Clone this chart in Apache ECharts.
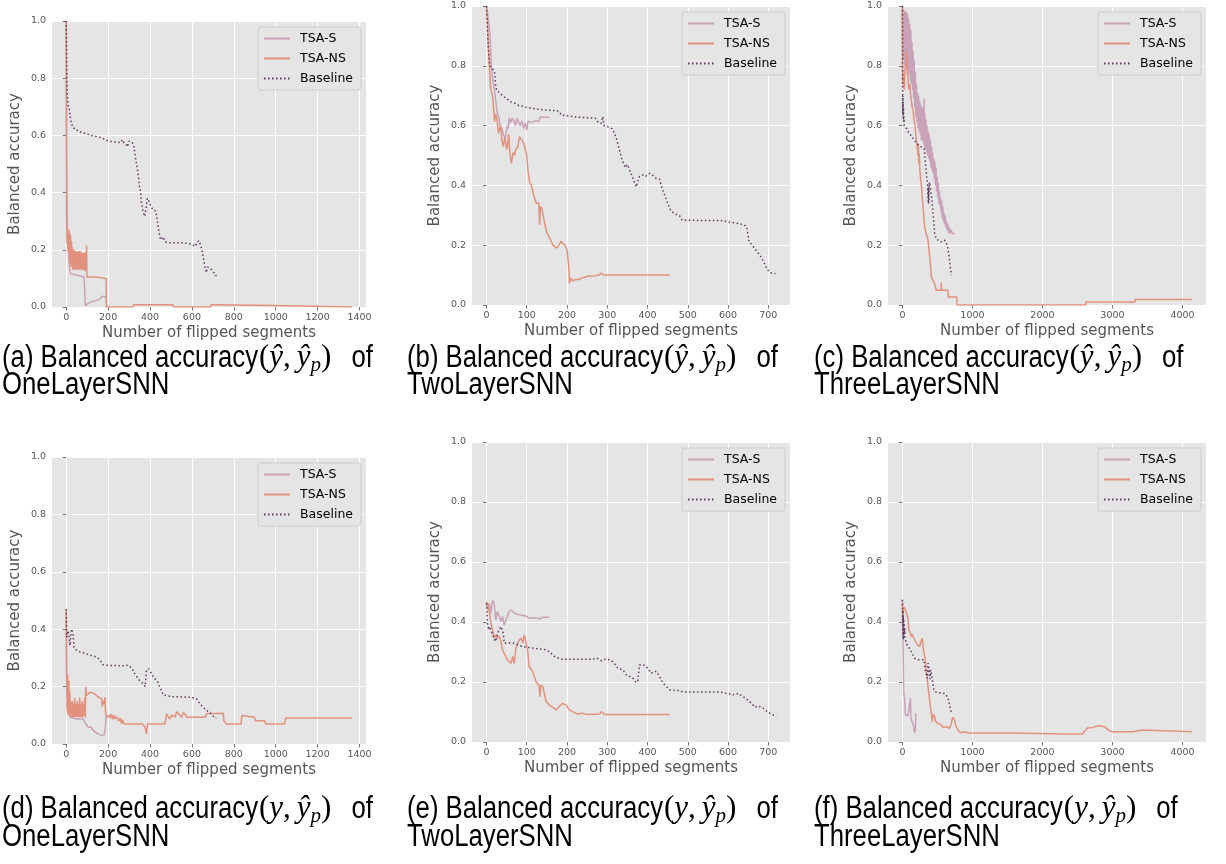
<!DOCTYPE html>
<html>
<head>
<meta charset="utf-8">
<script src="https://cdn.jsdelivr.net/npm/echarts@6/dist/echarts.min.js"></script>
<style>
html,body{margin:0;padding:0;background:#fff}
#main{width:1226px;height:864px}
</style>
</head>
<body>
<div id="main"></div>
<script>
// tick labels
var xTicks1400 = [0,200,400,600,800,1000,1200,1400]
var xTicks700 = [0,100,200,300,400,500,600,700]
var xTicks4000 = [0,1000,2000,3000,4000]
var yTicks = [0,0.2,0.4,0.6,0.8,1.0]
var seriesNames = ['TSA-S','TSA-NS','Baseline']

// (a) OneLayerSNN, acc(y^, y^p)
var a_tsaS = [[0,1.0],[2,0.5],[5,0.25],[10,0.2],[15,0.14],[20,0.117],[40,0.113],[60,0.11],[85,0.105],[88,0.06],[91,0.005],[100,0.005],[102,0.012],[110,0.015],[125,0.02],[145,0.022],[150,0.028],[165,0.03],[168,0.037],[185,0.037],[188,0.033],[190,0.033]]
var a_tsaNS = [[0,1.0],[1,0.6],[2,0.31],[3,0.28],[4,0.22],[5,0.28],[7,0.2],[9,0.27],[11,0.19],[13,0.27],[15,0.17],[17,0.26],[19,0.15],[21,0.25],[23,0.14],[25,0.23],[27,0.14],[29,0.21],[31,0.13],[33,0.2],[35,0.13],[38,0.2],[41,0.13],[44,0.195],[47,0.13],[50,0.195],[53,0.13],[56,0.195],[59,0.13],[62,0.195],[65,0.13],[68,0.195],[71,0.13],[74,0.19],[77,0.13],[80,0.19],[83,0.13],[86,0.19],[89,0.125],[92,0.19],[95,0.13],[97,0.215],[99,0.105],[140,0.105],[141,0.1],[190,0.1],[191,0],[320,0],[321,0.008],[510,0.008],[511,0],[690,0],[692,0.008],[712,0.008],[714,0.005],[985,0.005],[987,0],[1363,0]]
var a_base = [[0,1.0],[2,0.85],[4,0.76],[6,0.73],[10,0.70],[15,0.69],[20,0.66],[25,0.64],[30,0.635],[35,0.625],[45,0.625],[55,0.615],[75,0.61],[100,0.605],[120,0.6],[150,0.595],[175,0.59],[200,0.58],[230,0.577],[260,0.575],[268,0.585],[275,0.575],[285,0.57],[292,0.56],[300,0.58],[315,0.575],[322,0.565],[330,0.525],[338,0.49],[345,0.455],[350,0.42],[355,0.4],[360,0.36],[368,0.33],[375,0.317],[382,0.35],[387,0.38],[395,0.37],[405,0.35],[415,0.34],[428,0.335],[435,0.3],[442,0.265],[450,0.235],[458,0.23],[463,0.245],[470,0.23],[480,0.225],[550,0.225],[600,0.22],[615,0.212],[625,0.225],[632,0.232],[640,0.22],[648,0.2],[655,0.17],[662,0.14],[668,0.12],[675,0.14],[685,0.135],[695,0.13],[705,0.12],[712,0.11],[718,0.11]]

// (b) TwoLayerSNN, acc(y^, y^p)
var b_tsaS = [[0,1.0],[3,0.97],[5,0.95],[7,0.93],[9,0.9],[12,0.8],[15,0.76],[18,0.73],[20,0.72],[23,0.68],[26,0.65],[30,0.63],[34,0.6],[38,0.59],[42,0.57],[46,0.555],[50,0.56],[52,0.6],[54,0.59],[56,0.625],[60,0.61],[64,0.625],[68,0.615],[72,0.6],[76,0.625],[80,0.61],[84,0.6],[88,0.615],[92,0.59],[96,0.61],[98,0.61],[100,0.585],[103,0.615],[106,0.62],[112,0.61],[119,0.615],[131,0.615],[133,0.628],[156,0.628]]
var b_tsaNS = [[0,1.0],[3,0.93],[5,0.86],[8,0.78],[10,0.73],[13,0.71],[15,0.7],[18,0.65],[20,0.613],[23,0.64],[26,0.62],[30,0.575],[33,0.59],[35,0.6],[38,0.552],[42,0.53],[45,0.56],[47,0.55],[50,0.52],[53,0.54],[55,0.57],[58,0.508],[62,0.474],[66,0.51],[70,0.5],[72,0.519],[78,0.53],[82,0.563],[86,0.555],[90,0.55],[93,0.54],[96,0.541],[100,0.5],[103,0.45],[106,0.42],[108,0.408],[112,0.4],[116,0.374],[120,0.355],[124,0.34],[127,0.335],[130,0.34],[132,0.268],[134,0.33],[138,0.32],[142,0.318],[145,0.27],[150,0.24],[155,0.23],[160,0.215],[165,0.2],[170,0.195],[175,0.19],[180,0.2],[185,0.213],[190,0.205],[195,0.2],[200,0.185],[203,0.19],[205,0.12],[206,0.073],[210,0.09],[215,0.08],[220,0.085],[230,0.085],[235,0.09],[245,0.093],[250,0.096],[270,0.098],[280,0.1],[285,0.107],[292,0.1],[455,0.1]]
var b_base = [[0,1.0],[3,0.9],[5,0.85],[8,0.80],[12,0.795],[15,0.79],[20,0.78],[22,0.74],[25,0.72],[32,0.71],[40,0.70],[50,0.69],[60,0.68],[70,0.675],[80,0.667],[90,0.665],[100,0.661],[115,0.657],[125,0.655],[150,0.652],[175,0.65],[182,0.645],[186,0.635],[200,0.633],[230,0.628],[270,0.625],[278,0.61],[285,0.608],[289,0.63],[292,0.6],[300,0.597],[312,0.59],[318,0.575],[322,0.56],[330,0.52],[336,0.49],[340,0.475],[345,0.46],[350,0.47],[356,0.45],[362,0.43],[368,0.41],[372,0.395],[375,0.39],[380,0.43],[388,0.435],[395,0.43],[405,0.44],[412,0.435],[420,0.425],[430,0.42],[436,0.39],[442,0.37],[450,0.34],[458,0.315],[468,0.305],[480,0.298],[486,0.284],[520,0.283],[580,0.283],[600,0.278],[620,0.274],[640,0.268],[646,0.262],[648,0.25],[652,0.213],[660,0.2],[670,0.183],[680,0.165],[690,0.14],[698,0.118],[705,0.108],[718,0.105]]

// (c) ThreeLayerSNN, acc(y^, y^p)
var c_tsaS = [[0,1.0],[5,0.85],[10,0.99],[18,0.82],[25,0.98],[33,0.8],[40,0.985],[48,0.8],[56,0.98],[64,0.79],[72,0.975],[80,0.78],[88,0.96],[96,0.77],[105,0.94],[113,0.75],[120,0.92],[128,0.74],[136,0.88],[144,0.72],[152,0.85],[160,0.69],[168,0.82],[176,0.66],[184,0.78],[192,0.63],[200,0.74],[208,0.61],[216,0.71],[223,0.59],[231,0.70],[240,0.58],[248,0.68],[256,0.57],[264,0.67],[271,0.55],[279,0.66],[287,0.55],[295,0.66],[302,0.54],[309,0.69],[314,0.53],[320,0.64],[328,0.52],[336,0.62],[344,0.51],[352,0.6],[360,0.5],[368,0.58],[376,0.49],[384,0.57],[392,0.48],[400,0.55],[408,0.46],[416,0.53],[424,0.45],[432,0.51],[440,0.44],[448,0.49],[456,0.42],[464,0.48],[472,0.4],[480,0.46],[488,0.38],[496,0.43],[504,0.36],[512,0.41],[520,0.34],[528,0.38],[536,0.33],[544,0.36],[552,0.31],[560,0.35],[568,0.29],[576,0.33],[584,0.28],[592,0.31],[600,0.27],[610,0.3],[620,0.26],[630,0.28],[640,0.25],[650,0.27],[660,0.24],[672,0.26],[684,0.24],[698,0.25],[712,0.24],[728,0.24],[745,0.238]]
var c_tsaNS = [[0,1.0],[3,0.74],[8,0.78],[14,0.73],[20,0.76],[28,0.72],[36,0.79],[44,0.8],[50,0.82],[57,0.853],[64,0.8],[71,0.775],[80,0.76],[90,0.72],[105,0.74],[118,0.7],[130,0.68],[140,0.66],[152,0.65],[165,0.62],[180,0.6],[192,0.57],[200,0.55],[210,0.53],[223,0.5],[228,0.54],[233,0.473],[240,0.507],[250,0.45],[261,0.42],[271,0.40],[280,0.37],[294,0.33],[309,0.283],[318,0.26],[328,0.25],[342,0.235],[356,0.228],[366,0.215],[375,0.194],[385,0.17],[394,0.15],[405,0.12],[413,0.094],[425,0.088],[437,0.083],[450,0.078],[461,0.071],[472,0.06],[484,0.049],[550,0.049],[556,0.075],[560,0.049],[650,0.049],[655,0.027],[775,0.027],[780,0],[2620,0],[2622,0.01],[3320,0.01],[3322,0.018],[4132,0.018]]
var c_base = [[0,1.0],[2,0.8],[4,0.64],[6,0.7],[8,0.63],[10,0.68],[12,0.62],[15,0.66],[18,0.61],[22,0.63],[26,0.6],[30,0.6],[45,0.596],[60,0.59],[80,0.58],[104,0.574],[130,0.565],[152,0.557],[175,0.55],[200,0.54],[240,0.533],[271,0.529],[309,0.523],[318,0.507],[330,0.47],[342,0.44],[350,0.42],[356,0.412],[362,0.39],[366,0.36],[368,0.4],[370,0.34],[372,0.39],[374,0.35],[376,0.34],[380,0.38],[385,0.41],[392,0.4],[400,0.39],[410,0.37],[423,0.35],[432,0.32],[442,0.295],[452,0.265],[461,0.239],[472,0.23],[484,0.222],[520,0.215],[556,0.211],[580,0.21],[600,0.217],[620,0.21],[641,0.2],[650,0.188],[660,0.172],[670,0.155],[679,0.138],[688,0.12],[698,0.1]]

// (d) OneLayerSNN, acc(y, y^p)
var d_tsaS = [[0,0.47],[2,0.25],[4,0.163],[8,0.16],[12,0.151],[15,0.12],[18,0.093],[26,0.087],[50,0.087],[81,0.087],[85,0.082],[89,0.076],[97,0.065],[105,0.058],[120,0.058],[125,0.05],[129,0.047],[140,0.04],[153,0.035],[160,0.03],[169,0.029],[173,0.035],[177,0.035],[181,0.031],[185,0.031],[187,0.06],[189,0.081],[191,0.099]]
var d_tsaNS = [[0,0.47],[1,0.3],[2,0.221],[3,0.244],[4,0.12],[5,0.23],[6,0.11],[7,0.24],[8,0.105],[9,0.2],[11,0.1],[13,0.22],[15,0.1],[17,0.18],[19,0.095],[21,0.15],[23,0.093],[25,0.14],[27,0.093],[29,0.15],[31,0.093],[34,0.14],[37,0.093],[40,0.16],[43,0.093],[46,0.14],[49,0.093],[52,0.15],[55,0.093],[58,0.14],[61,0.093],[64,0.163],[67,0.093],[70,0.14],[73,0.093],[76,0.15],[79,0.093],[82,0.14],[85,0.1],[88,0.16],[91,0.093],[93,0.2],[96,0.169],[100,0.175],[113,0.18],[125,0.178],[137,0.174],[145,0.17],[153,0.163],[160,0.16],[169,0.157],[173,0.13],[176,0.15],[180,0.14],[185,0.163],[188,0.105],[192,0.105],[196,0.093],[200,0.093],[205,0.1],[210,0.09],[216,0.105],[222,0.087],[228,0.1],[232,0.087],[240,0.095],[248,0.099],[252,0.08],[258,0.09],[264,0.07],[268,0.085],[272,0.081],[276,0.07],[280,0.07],[360,0.07],[370,0.065],[376,0.058],[383,0.035],[388,0.07],[471,0.07],[479,0.105],[487,0.095],[495,0.087],[503,0.1],[511,0.105],[520,0.095],[528,0.112],[535,0.11],[543,0.1],[551,0.093],[559,0.11],[567,0.11],[571,0.1],[575,0.093],[662,0.093],[670,0.105],[750,0.107],[752,0.081],[765,0.07],[835,0.07],[838,0.099],[899,0.093],[903,0.081],[947,0.081],[952,0.07],[1042,0.07],[1047,0.091],[1365,0.091]]
var d_base = [[0,0.47],[2,0.372],[5,0.38],[10,0.395],[14,0.37],[18,0.343],[22,0.38],[26,0.401],[30,0.395],[33,0.38],[37,0.337],[43,0.33],[49,0.326],[60,0.322],[73,0.32],[90,0.315],[105,0.312],[120,0.308],[137,0.305],[150,0.3],[161,0.293],[168,0.285],[176,0.276],[200,0.274],[248,0.273],[270,0.273],[285,0.273],[288,0.277],[295,0.275],[304,0.272],[312,0.265],[320,0.255],[328,0.244],[336,0.235],[344,0.227],[352,0.22],[360,0.215],[368,0.21],[376,0.2],[379,0.22],[383,0.256],[388,0.26],[394,0.262],[400,0.255],[407,0.244],[415,0.235],[423,0.227],[430,0.232],[438,0.215],[447,0.198],[455,0.185],[463,0.171],[480,0.168],[503,0.165],[550,0.164],[598,0.163],[610,0.16],[622,0.157],[630,0.15],[638,0.14],[650,0.13],[662,0.122],[674,0.115],[686,0.11],[698,0.1],[710,0.09],[716,0.091]]

// (e) TwoLayerSNN, acc(y, y^p)
var e_tsaS = [[0,0.463],[3,0.44],[7,0.463],[11,0.43],[15,0.472],[19,0.463],[23,0.407],[27,0.435],[32,0.418],[36,0.402],[40,0.418],[44,0.39],[48,0.407],[52,0.418],[56,0.435],[61,0.44],[69,0.43],[81,0.424],[98,0.42],[106,0.413],[127,0.413],[132,0.41],[140,0.416],[156,0.416]]
var e_tsaNS = [[0,0.468],[3,0.458],[7,0.435],[11,0.396],[15,0.374],[19,0.346],[23,0.357],[27,0.346],[32,0.351],[36,0.335],[40,0.307],[44,0.296],[48,0.3],[52,0.274],[56,0.28],[61,0.262],[65,0.285],[69,0.262],[73,0.313],[77,0.318],[81,0.34],[86,0.346],[90,0.33],[94,0.357],[98,0.351],[102,0.307],[106,0.251],[113,0.24],[119,0.218],[123,0.201],[130,0.19],[133,0.151],[135,0.19],[140,0.185],[144,0.19],[148,0.135],[156,0.123],[164,0.116],[173,0.107],[181,0.118],[189,0.129],[198,0.123],[206,0.107],[214,0.101],[227,0.093],[239,0.096],[248,0.092],[281,0.093],[285,0.101],[293,0.092],[455,0.092]]
var e_base = [[0,0.463],[2.5,0.396],[5,0.374],[7,0.385],[11,0.374],[15,0.36],[19,0.345],[22,0.335],[26,0.35],[30,0.37],[36,0.385],[40,0.39],[42,0.36],[44,0.33],[48,0.324],[65,0.33],[90,0.318],[115,0.313],[148,0.307],[156,0.301],[169,0.285],[185,0.276],[264,0.276],[275,0.279],[285,0.271],[295,0.276],[301,0.276],[305,0.279],[314,0.268],[326,0.246],[339,0.24],[347,0.224],[356,0.218],[364,0.212],[372,0.198],[376,0.205],[380,0.257],[390,0.257],[401,0.246],[409,0.229],[416,0.235],[422,0.235],[430,0.218],[437,0.2],[443,0.19],[455,0.174],[480,0.171],[488,0.167],[580,0.167],[596,0.162],[617,0.157],[625,0.162],[638,0.151],[654,0.135],[667,0.116],[675,0.12],[688,0.112],[700,0.098],[713,0.09],[721,0.09]]

// (f) ThreeLayerSNN, acc(y, y^p)
var f_tsaS = [[0,0.474],[5,0.4],[9.5,0.318],[14,0.24],[19,0.162],[33,0.14],[38,0.11],[43,0.09],[81,0.087],[104,0.087],[112,0.087],[114,0.146],[119,0.146],[121,0.08],[128,0.073],[152,0.062],[160,0.05],[166,0.04],[176,0.031],[185,0.04],[190,0.035],[192,0.096],[195,0.096]]
var f_tsaNS = [[0,0.463],[5,0.41],[9,0.385],[14,0.44],[19,0.44],[26,0.45],[33,0.446],[45,0.44],[57,0.435],[70,0.42],[81,0.407],[90,0.374],[104,0.38],[116,0.36],[128,0.351],[140,0.36],[152,0.357],[164,0.345],[176,0.34],[188,0.335],[199,0.331],[211,0.325],[223,0.324],[235,0.32],[247,0.318],[259,0.33],[271,0.335],[285,0.346],[294,0.318],[309,0.296],[318,0.285],[328,0.274],[342,0.24],[356,0.207],[370,0.174],[380,0.16],[389,0.14],[401,0.115],[413,0.096],[420,0.08],[427,0.068],[434,0.085],[442,0.093],[452,0.088],[461,0.085],[472,0.07],[484,0.065],[508,0.062],[530,0.06],[556,0.057],[579,0.049],[600,0.05],[627,0.051],[650,0.048],[674,0.046],[686,0.052],[698,0.062],[710,0.075],[722,0.082],[734,0.078],[745,0.073],[757,0.06],[769,0.051],[781,0.045],[793,0.04],[831,0.031],[888,0.034],[912,0.031],[936,0.03],[1530,0.03],[1535,0.027],[2313,0.027],[2320,0.029],[2350,0.027],[2575,0.027],[2600,0.035],[2622,0.04],[2650,0.048],[2670,0.051],[2700,0.047],[2717,0.046],[2760,0.052],[2800,0.053],[2836,0.053],[2883,0.051],[2931,0.042],[2960,0.037],[3002,0.034],[3287,0.034],[3311,0.04],[3430,0.04],[3453,0.034],[4132,0.034]]
var f_base = [[0,0.474],[3,0.4],[6,0.44],[9,0.35],[12,0.42],[15,0.34],[18,0.41],[21,0.35],[24,0.396],[28,0.36],[33,0.38],[38,0.35],[43,0.346],[57,0.329],[81,0.318],[105,0.31],[128,0.301],[150,0.29],[176,0.279],[223,0.274],[271,0.274],[309,0.274],[318,0.251],[330,0.235],[342,0.224],[356,0.212],[366,0.263],[372,0.255],[378,0.24],[389,0.218],[395,0.21],[402,0.24],[413,0.229],[425,0.21],[437,0.19],[449,0.175],[461,0.168],[508,0.165],[560,0.163],[603,0.162],[625,0.158],[641,0.151],[658,0.14],[674,0.123],[686,0.11],[698,0.098]]

var captions = [
    ['(a)', 'ŷ', 'OneLayerSNN'], ['(b)', 'ŷ', 'TwoLayerSNN'], ['(c)', 'ŷ', 'ThreeLayerSNN'],
    ['(d)', 'y', 'OneLayerSNN'], ['(e)', 'y', 'TwoLayerSNN'], ['(f)', 'y', 'ThreeLayerSNN']
]

var colors = ['#c9a2b7', '#e2917f', '#5e385e']
var gridBg = '#e5e5e5'
var tickColor = '#555555'

// layout of the 6 panels
var panels = [
    {left: 52, top: 21, width: 314, height: 286, min: -68, max: 1431, split: 7, ticks: xTicks1400, data: [a_tsaS, a_tsaNS, a_base]},
    {left: 472, top: 6, width: 318, height: 299, min: -36, max: 754, split: 8, ticks: xTicks700, data: [b_tsaS, b_tsaNS, b_base]},
    {left: 888, top: 6, width: 318, height: 299, min: -206, max: 4336, split: 4, ticks: xTicks4000, data: [c_tsaS, c_tsaNS, c_base]},
    {left: 52, top: 457, width: 314, height: 287, min: -68, max: 1431, split: 7, ticks: xTicks1400, data: [d_tsaS, d_tsaNS, d_base]},
    {left: 472, top: 442, width: 318, height: 300, min: -36, max: 754, split: 8, ticks: xTicks700, data: [e_tsaS, e_tsaNS, e_base]},
    {left: 888, top: 442, width: 318, height: 300, min: -206, max: 4336, split: 4, ticks: xTicks4000, data: [f_tsaS, f_tsaNS, f_base]}
]
var capPos = [[2, 358, 385], [407, 358, 385], [814, 358, 385], [2, 809, 837], [407, 809, 837], [814, 809, 837]]

var grids = [], xAxes = [], yAxes = [], series = [], legends = [], graphics = []

panels.forEach(function (p, i) {
    grids.push({
        left: p.left, top: p.top, width: p.width, height: p.height,
        show: true, backgroundColor: gridBg, borderWidth: 0
    })
    xAxes.push({
        gridIndex: i, type: 'value', min: p.min, max: p.max, splitNumber: p.split,
        name: 'Number of flipped segments', nameLocation: 'middle', nameGap: 19,
        nameTextStyle: {fontFamily: 'DejaVu Sans', fontSize: 15, color: tickColor},
        axisLine: {show: false},
        axisTick: {show: true, length: 3.5, customValues: p.ticks, lineStyle: {color: tickColor, width: 0.8}},
        axisLabel: {customValues: p.ticks, fontFamily: 'DejaVu Sans', fontSize: 9.5, color: tickColor, margin: 6,
            formatter: function (v) { return String(v) }},
        splitLine: {show: true, lineStyle: {color: '#ffffff', width: 1}}
    })
    yAxes.push({
        gridIndex: i, type: 'value', min: 0, max: 1, interval: 0.2,
        name: 'Balanced accuracy', nameLocation: 'middle', nameGap: 29,
        nameTextStyle: {fontFamily: 'DejaVu Sans', fontSize: 15, color: tickColor},
        axisLine: {show: false},
        axisTick: {show: true, length: 3.5, lineStyle: {color: tickColor, width: 0.8}},
        axisLabel: {fontFamily: 'DejaVu Sans', fontSize: 9.5, color: tickColor, margin: 6,
            formatter: function (v) { return v.toFixed(1) }},
        splitLine: {show: true, lineStyle: {color: '#ffffff', width: 1}}
    })
    for (var k = 0; k < 3; k++) {
        series.push({
            name: seriesNames[k], type: 'line', xAxisIndex: i, yAxisIndex: i,
            data: p.data[k], symbol: 'none', z: 2 + k,
            lineStyle: k == 2
                ? {color: colors[k], width: 1.5, type: [1.5, 2.5]}
                : {color: colors[k], width: 1.5},
            itemStyle: {color: colors[k]}
        })
    }
    legends.push({
        data: seriesNames, orient: 'vertical',
        right: 1226 - (p.left + p.width) + 5, top: p.top + 6,
        itemWidth: 26, itemHeight: 12, itemGap: 7,
        padding: [5, 8, 5, 5],
        backgroundColor: gridBg, borderColor: '#cccccc', borderWidth: 1, borderRadius: 3,
        itemStyle: {opacity: 0},
        textStyle: {fontFamily: 'DejaVu Sans', fontSize: 12.5, color: '#000', padding: [0, 0, 0, 5]},
        selectedMode: false
    })
})

// captions
var measureCtx = document.createElement('canvas').getContext('2d')
function textWidth(str, font) {
    measureCtx.font = font
    return measureCtx.measureText(str).width
}
var sansFont = '31px "Liberation Sans"'
var serifFont = '31px "Liberation Serif"'
var serifIt = 'italic 31px "Liberation Serif"'
var subIt = 'italic 21px "Liberation Serif"'
var narrow = 0.83

function addText(str, font, x, y, sx) {
    graphics.push({
        type: 'text', x: x, y: y, scaleX: sx,
        style: {text: str, font: font, fill: '#000', align: 'left', verticalAlign: 'middle'}
    })
    return textWidth(str, font) * sx
}

captions.forEach(function (c, i) {
    var x = capPos[i][0], y1 = capPos[i][1], y2 = capPos[i][2]
    x += addText(c[0] + ' Balanced accuracy', sansFont, x, y1, narrow) + 1
    x += addText('(', serifFont, x, y1, 1)
    x += addText(c[1], serifIt, x, y1, 1)
    x += addText(',', serifFont, x, y1, 1) + 6
    x += addText('ŷ', serifIt, x, y1, 1)
    x += addText('p', subIt, x, y1 + 7, 1)
    x += addText(')', serifFont, x, y1, 1) + 20
    addText('of', sansFont, x, y1, narrow)
    addText(c[2], sansFont, capPos[i][0], y2, narrow)
})

var chart = echarts.init(document.getElementById('main'))
var option = {
    animation: false,
    backgroundColor: '#ffffff',
    grid: grids,
    xAxis: xAxes,
    yAxis: yAxes,
    legend: legends,
    series: series,
    graphic: graphics
}
chart.setOption(option)
</script>
</body>
</html>
